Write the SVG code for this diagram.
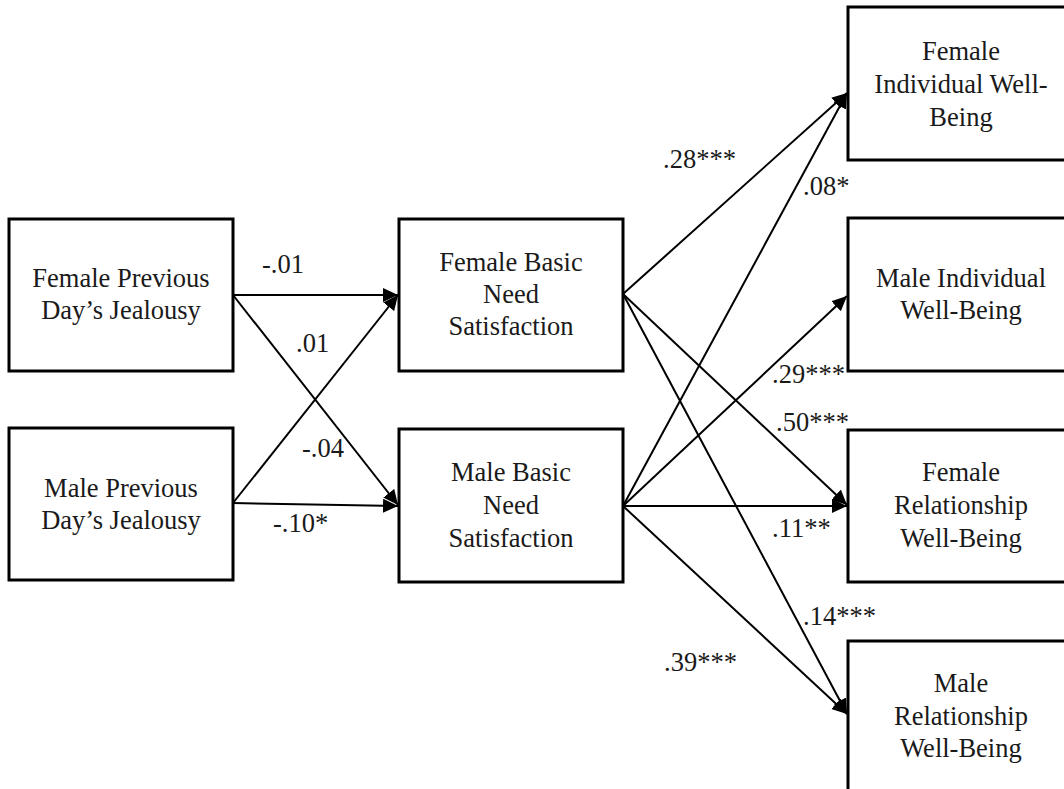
<svg xmlns="http://www.w3.org/2000/svg" width="1064" height="789" viewBox="0 0 1064 789">
<style>
.box{fill:#fff;stroke:#000;stroke-width:3}
.t{font-family:"Liberation Serif","Times New Roman",serif;font-size:26.5px;fill:#1a1a1a;text-anchor:middle}
.l{font-family:"Liberation Serif","Times New Roman",serif;font-size:26.5px;fill:#1a1a1a}
.c{stroke:#000;stroke-width:2;fill:none;marker-end:url(#ah)}
</style>
<defs>
<marker id="ah" markerUnits="userSpaceOnUse" markerWidth="16" markerHeight="15" refX="15" refY="7" orient="auto">
<path d="M0,0 L15,7 L0,14 z" fill="#000"/>
</marker>
</defs>
<rect width="1064" height="789" fill="#fff"/>
<g id="connectors">
<line class="c" x1="233" y1="295" x2="398" y2="295"/>
<line class="c" x1="233" y1="295" x2="398" y2="505"/>
<line class="c" x1="233" y1="503" x2="398" y2="295"/>
<line class="c" x1="233" y1="503" x2="398" y2="506"/>
<line class="c" x1="623" y1="294" x2="847" y2="93"/>
<line class="c" x1="623" y1="294" x2="847" y2="505"/>
<line class="c" x1="623" y1="294" x2="847" y2="714"/>
<line class="c" x1="623" y1="506" x2="847" y2="93"/>
<line class="c" x1="623" y1="506" x2="847" y2="296"/>
<line class="c" x1="623" y1="506" x2="847" y2="506"/>
<line class="c" x1="623" y1="506" x2="847" y2="714"/>
</g>
<g id="labels">
<text class="l" x="262" y="273">-.01</text>
<text class="l" x="296" y="352">.01</text>
<text class="l" x="302" y="457">-.04</text>
<text class="l" x="273" y="532">-.10*</text>
<text class="l" x="663" y="168">.28***</text>
<text class="l" x="803" y="195">.08*</text>
<text class="l" x="772" y="383">.29***</text>
<text class="l" x="776" y="431">.50***</text>
<text class="l" x="772" y="537">.11**</text>
<text class="l" x="803" y="625">.14***</text>
<text class="l" x="664" y="671">.39***</text>
</g>
<g id="n-fprev">
<rect class="box" x="9" y="219" width="224" height="152"/>
<text class="t" x="121" y="287">Female Previous</text>
<text class="t" x="121" y="319">Day’s Jealousy</text>
</g>
<g id="n-mprev">
<rect class="box" x="9" y="428" width="224" height="152"/>
<text class="t" x="121" y="497">Male Previous</text>
<text class="t" x="121" y="529">Day’s Jealousy</text>
</g>
<g id="n-fbasic">
<rect class="box" x="399" y="219" width="224" height="152"/>
<text class="t" x="511" y="271">Female Basic</text>
<text class="t" x="511" y="303">Need</text>
<text class="t" x="511" y="335">Satisfaction</text>
</g>
<g id="n-mbasic">
<rect class="box" x="399" y="429" width="224" height="153"/>
<text class="t" x="511" y="481">Male Basic</text>
<text class="t" x="511" y="514">Need</text>
<text class="t" x="511" y="547">Satisfaction</text>
</g>
<g id="n-findiv">
<rect class="box" x="848" y="7" width="226" height="153"/>
<text class="t" x="961" y="60">Female</text>
<text class="t" x="961" y="93">Individual Well-</text>
<text class="t" x="961" y="126">Being</text>
</g>
<g id="n-mindiv">
<rect class="box" x="848" y="218" width="226" height="153"/>
<text class="t" x="961" y="287">Male Individual</text>
<text class="t" x="961" y="319">Well-Being</text>
</g>
<g id="n-frel">
<rect class="box" x="848" y="430" width="226" height="152"/>
<text class="t" x="961" y="481">Female</text>
<text class="t" x="961" y="514">Relationship</text>
<text class="t" x="961" y="547">Well-Being</text>
</g>
<g id="n-mrel">
<rect class="box" x="848" y="641" width="226" height="160"/>
<text class="t" x="961" y="692">Male</text>
<text class="t" x="961" y="725">Relationship</text>
<text class="t" x="961" y="757">Well-Being</text>
</g>
</svg>
